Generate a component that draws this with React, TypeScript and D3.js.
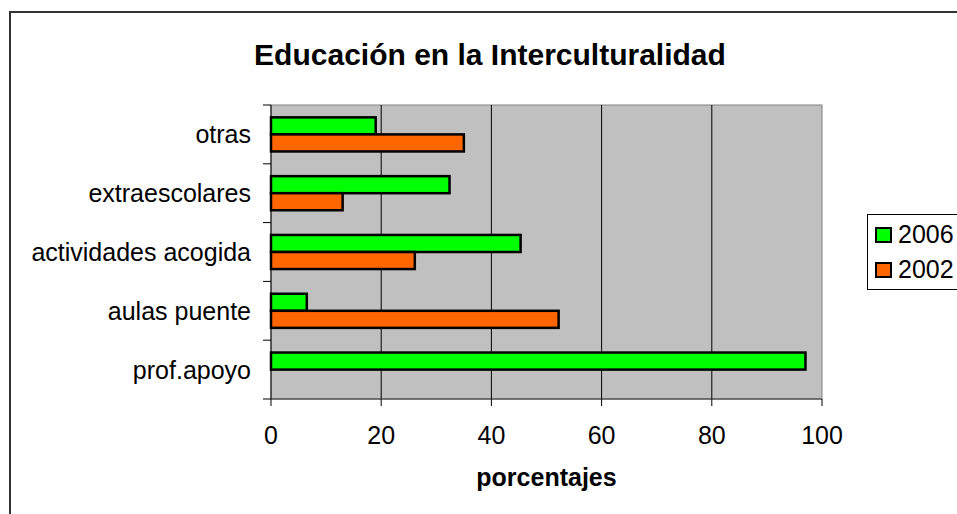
import React from "react";
import * as d3 from "d3";

const categories = ["otras", "extraescolares", "actividades acogida", "aulas puente", "prof.apoyo"];
const series = ["2006", "2002"];
const values2006 = [19.0, 32.4, 45.3, 6.5, 97.0];
const values2002 = [35.0, 13.0, 26.1, 52.2, 0];
const xTicks = [0, 20, 40, 60, 80, 100];
const colors = ["#00ff00", "#ff6600"];
const title = "Educación en la Interculturalidad";
const xTitle = "porcentajes";

const W = 957;
const H = 514;
const plot = { left: 271, right: 822, top: 105, bottom: 399 };
const FONT = "'Liberation Sans', Arial, sans-serif";

export default function App() {
  const x = d3.scaleLinear().domain([0, 100]).range([plot.left, plot.right]);
  const y = d3
    .scaleBand<string>()
    .domain(categories)
    .range([plot.top, plot.bottom])
    .paddingInner(0.42)
    .paddingOuter(0.21);
  const bh = y.bandwidth() / 2;
  const data = [values2006, values2002];
  const catStep = (plot.bottom - plot.top) / categories.length;

  return (
    <svg
      width={W}
      height={H}
      style={{ position: "absolute", left: 0, top: 0, background: "#fff" }}
      fontFamily={FONT}
    >
      <rect x={10} y={12} width={1000} height={600} fill="#fff" stroke="#333" strokeWidth={2} />
      <text x={490} y={65} textAnchor="middle" fontSize={30} fontWeight="bold" fill="#000">
        {title}
      </text>
      <rect
        x={plot.left}
        y={plot.top}
        width={plot.right - plot.left}
        height={plot.bottom - plot.top}
        fill="#c0c0c0"
        stroke="#808080"
        strokeWidth={1}
      />
      {xTicks.slice(1, -1).map((t) => (
        <line key={t} x1={x(t)} x2={x(t)} y1={plot.top} y2={plot.bottom} stroke="#000" strokeWidth={1} />
      ))}
      {categories.map((c, i) =>
        data.map((vals, s) =>
          vals[i] > 0 ? (
            <rect
              key={c + s}
              x={x(0)}
              y={(y(c) as number) + s * bh}
              width={x(vals[i]) - x(0)}
              height={bh}
              fill={colors[s]}
              stroke="#000"
              strokeWidth={2.5}
            />
          ) : null
        )
      )}
      <line x1={plot.left} x2={plot.left} y1={plot.top} y2={plot.bottom} stroke="#000" strokeWidth={1} />
      <line x1={plot.left} x2={plot.right} y1={plot.bottom} y2={plot.bottom} stroke="#333" strokeWidth={1} />
      {d3.range(categories.length + 1).map((k) => {
        const ty = plot.top + k * catStep;
        return <line key={k} x1={plot.left - 8} x2={plot.left} y1={ty} y2={ty} stroke="#000" strokeWidth={1} />;
      })}
      {xTicks.map((t) => (
        <g key={t}>
          <line x1={x(t)} x2={x(t)} y1={plot.bottom} y2={plot.bottom + 7} stroke="#000" strokeWidth={1} />
          <text x={x(t)} y={443.5} textAnchor="middle" fontSize={25} fill="#000">
            {t}
          </text>
        </g>
      ))}
      {categories.map((c) => (
        <text
          key={c}
          x={251}
          y={(y(c) as number) + y.bandwidth() / 2 + 9}
          textAnchor="end"
          fontSize={25}
          fill="#000"
        >
          {c}
        </text>
      ))}
      <text x={(plot.left + plot.right) / 2} y={486} textAnchor="middle" fontSize={25} fontWeight="bold" fill="#000">
        {xTitle}
      </text>
      <rect x={867.5} y={214.5} width={120} height={75} fill="#fff" stroke="#000" strokeWidth={1} />
      {series.map((s, i) => (
        <g key={s}>
          <rect x={876} y={228 + i * 35} width={15} height={14} fill={colors[i]} stroke="#000" strokeWidth={2} />
          <text x={898} y={242.5 + i * 35} fontSize={25} fill="#000">
            {s}
          </text>
        </g>
      ))}
    </svg>
  );
}
